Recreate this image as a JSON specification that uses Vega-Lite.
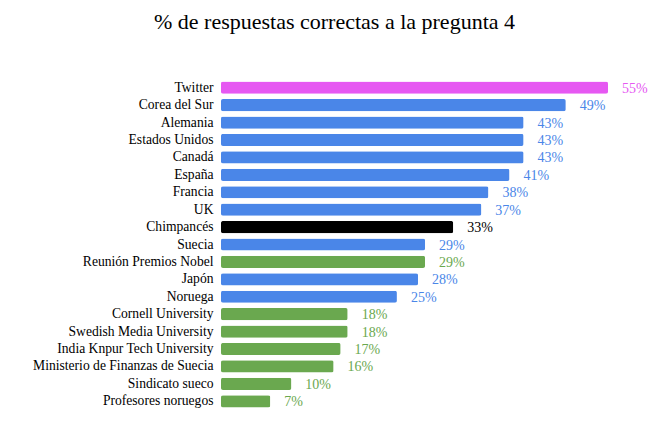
{
  "$schema": "https://vega.github.io/schema/vega-lite/v6.json",
  "autosize": {"type": "none"},
  "padding": {"left": 221, "top": 79, "right": 60, "bottom": 24},
  "width": 387,
  "height": 331,
  "background": "white",
  "title": {
    "text": "% de respuestas correctas a la pregunta 4",
    "font": "Liberation Serif",
    "fontSize": 22,
    "fontWeight": "normal",
    "color": "#000000",
    "anchor": "middle",
    "dx": -80,
    "offset": 45
  },
  "data": {
    "values": [
      {"name": "Twitter", "pct": 0.55, "group": "twitter"},
      {"name": "Corea del Sur", "pct": 0.49, "group": "pais"},
      {"name": "Alemania", "pct": 0.43, "group": "pais"},
      {"name": "Estados Unidos", "pct": 0.43, "group": "pais"},
      {"name": "Canadá", "pct": 0.43, "group": "pais"},
      {"name": "España", "pct": 0.41, "group": "pais"},
      {"name": "Francia", "pct": 0.38, "group": "pais"},
      {"name": "UK", "pct": 0.37, "group": "pais"},
      {"name": "Chimpancés", "pct": 0.33, "group": "chimp"},
      {"name": "Suecia", "pct": 0.29, "group": "pais"},
      {"name": "Reunión Premios Nobel", "pct": 0.29, "group": "experto"},
      {"name": "Japón", "pct": 0.28, "group": "pais"},
      {"name": "Noruega", "pct": 0.25, "group": "pais"},
      {"name": "Cornell University", "pct": 0.18, "group": "experto"},
      {"name": "Swedish Media University", "pct": 0.18, "group": "experto"},
      {"name": "India Knpur Tech University", "pct": 0.17, "group": "experto"},
      {"name": "Ministerio de Finanzas de Suecia", "pct": 0.16, "group": "experto"},
      {"name": "Sindicato sueco", "pct": 0.10, "group": "experto"},
      {"name": "Profesores noruegos", "pct": 0.07, "group": "experto"}
    ]
  },
  "encoding": {
    "y": {
      "field": "name",
      "type": "nominal",
      "sort": null,
      "title": null,
      "scale": {"paddingInner": 0.3, "paddingOuter": 0.15},
      "axis": {
        "domain": false,
        "ticks": false,
        "labelPadding": 8,
        "labelFont": "Liberation Serif",
        "labelFontSize": 13.6,
        "labelColor": "#000000",
        "labelLimit": 300
      }
    },
    "x": {
      "field": "pct",
      "type": "quantitative",
      "scale": {"domain": [0, 0.55], "nice": false},
      "axis": null
    },
    "color": {
      "field": "group",
      "type": "nominal",
      "legend": null,
      "scale": {
        "domain": ["twitter", "pais", "chimp", "experto"],
        "range": ["#e658f2", "#4a86e8", "#000000", "#6aa84f"]
      }
    }
  },
  "layer": [
    {
      "mark": {"type": "bar", "cornerRadius": 2}
    },
    {
      "mark": {
        "type": "text",
        "align": "left",
        "dx": 14,
        "dy": 1,
        "font": "Liberation Serif",
        "fontSize": 14
      },
      "encoding": {
        "text": {"field": "pct", "type": "quantitative", "format": ".0%"}
      }
    }
  ],
  "config": {"view": {"stroke": null}}
}
